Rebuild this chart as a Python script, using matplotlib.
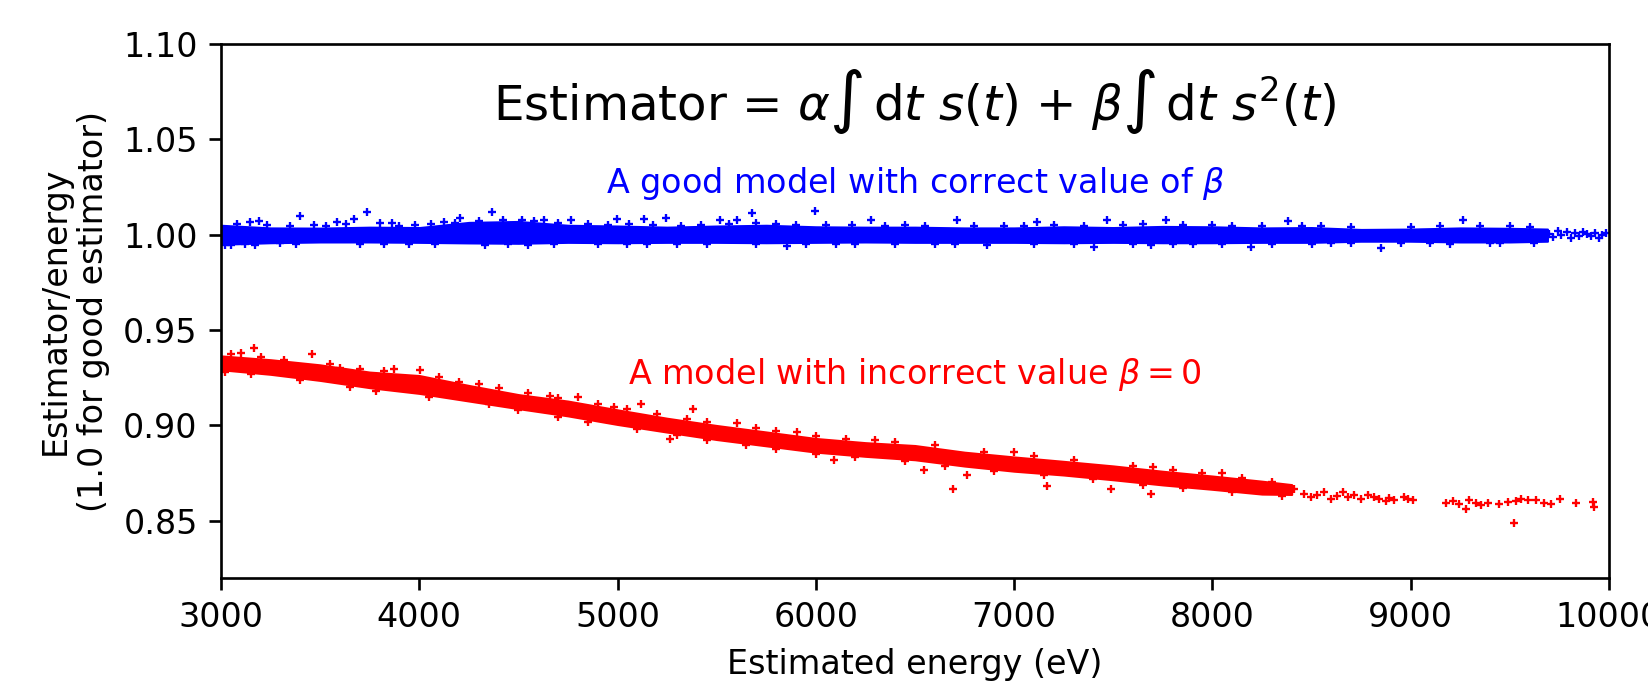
import matplotlib
matplotlib.use("Agg")
import matplotlib.pyplot as plt

# dense part of each band (energy in eV, ratio)
band_e = [3000, 3250, 3500, 3750, 4000, 4250, 4500, 4750, 5000, 5250, 5500, 5750, 6000,
          6250, 6500, 6750, 7000, 7250, 7500, 7750, 8000, 8250, 8500, 8750, 9000, 9250,
          9500, 9690]
blue_hi = [1.0050, 1.0036, 1.0035, 1.0040, 1.0038, 1.0065, 1.0070, 1.0050, 1.0046, 1.0040,
           1.0046, 1.0050, 1.0042, 1.0040, 1.0040, 1.0036, 1.0036, 1.0042, 1.0038, 1.0044,
           1.0042, 1.0036, 1.0038, 1.0028, 1.0030, 1.0036, 1.0034, 1.0030]
blue_lo = [0.9950, 0.9958, 0.9962, 0.9962, 0.9960, 0.9957, 0.9955, 0.9960, 0.9958, 0.9960,
           0.9960, 0.9958, 0.9960, 0.9962, 0.9960, 0.9960, 0.9960, 0.9958, 0.9960, 0.9958,
           0.9958, 0.9960, 0.9960, 0.9966, 0.9966, 0.9962, 0.9962, 0.9966]

red_e = [3000, 3250, 3500, 3750, 4000, 4250, 4500, 4750, 5000, 5250, 5500, 5750, 6000,
         6250, 6500, 6750, 7000, 7250, 7500, 7750, 8000, 8250, 8400]
red_hi = [0.9365, 0.9345, 0.9318, 0.9280, 0.9262, 0.9210, 0.9162, 0.9128, 0.9082, 0.9038,
          0.9000, 0.8966, 0.8932, 0.8910, 0.8895, 0.8860, 0.8835, 0.8812, 0.8788, 0.8760,
          0.8735, 0.8708, 0.8690]
red_lo = [0.9292, 0.9268, 0.9236, 0.9198, 0.9168, 0.9128, 0.9088, 0.9050, 0.9005, 0.8965,
          0.8926, 0.8893, 0.8860, 0.8838, 0.8820, 0.8787, 0.8760, 0.8740, 0.8715, 0.8688,
          0.8665, 0.8640, 0.8638]

# scattered points outside the dense band (fuzz, outliers, sparse tails)
blue_pts_e = [3148, 3190, 3400, 3585, 3669, 3737, 3804, 3863, 4123, 4207, 4367, 4628, 4763,
              4998, 5133, 5242, 5519, 5603, 5676, 5994, 6276, 6714, 7117, 7470, 7765, 8379,
              9262, 3050, 3120, 3300, 3950, 4450, 4900, 5856, 6865, 7403, 7689, 8194, 8850,
              5300, 6100, 6600, 7900, 8600, 9100, 9400,
              9700, 9720, 9745, 9760, 9790, 9810, 9830, 9850, 9870, 9890, 9910, 9930, 9950,
              9965, 9985,
              3080, 3230, 3350, 3470, 3530, 3630, 3900, 3980, 4060, 4180, 4300, 4420, 4520,
              4580, 4700, 4850, 4950, 5060, 5180, 5320, 5420, 5560, 5700, 5800, 5900, 6050,
              6180, 6350, 6450, 6550, 6800, 6950, 7050, 7200, 7350, 7550, 7650, 7850, 8000,
              8100, 8250, 8450, 8550, 8700, 9000, 9150, 9350, 9500, 9600,
              3020, 3170, 3380, 3700, 3820, 4080, 4330, 4550, 4680, 5050, 5150, 5450, 5700,
              5950, 6200, 6400, 6700, 7100, 7300, 7600, 7800, 8050, 8300, 8500, 8700, 8950,
              9200, 9450, 9620]
blue_pts_y = [1.0069, 1.0072, 1.0097, 1.0069, 1.0083, 1.0118, 1.0062, 1.0062, 1.0066, 1.0087,
              1.0118, 1.0080, 1.0080, 1.0085, 1.0085, 1.0087, 1.0075, 1.0080, 1.0113, 1.0127,
              1.0075, 1.0075, 1.0069, 1.0075, 1.0075, 1.0072, 1.0075, 0.9948, 0.9950, 0.9955,
              0.9952, 0.9950, 0.9952, 0.9940, 0.9948, 0.9934, 0.9948, 0.9934, 0.9930,
              0.9952, 0.9950, 0.9953, 0.9952, 0.9955, 0.9958, 0.9955,
              1.0005, 0.9990, 1.0020, 1.0000, 1.0012, 0.9985, 1.0008, 0.9995, 1.0015, 1.0002,
              0.9992, 1.0010, 0.9985, 1.0000, 1.0008,
              1.0058, 1.0050, 1.0047, 1.0052, 1.0046, 1.0055, 1.0048, 1.0050, 1.0054, 1.0060,
              1.0072, 1.0078, 1.0076, 1.0072, 1.0060, 1.0055, 1.0052, 1.0056, 1.0050, 1.0048,
              1.0052, 1.0058, 1.0060, 1.0055, 1.0052, 1.0050, 1.0052, 1.0048, 1.0050, 1.0046,
              1.0047, 1.0045, 1.0048, 1.0052, 1.0048, 1.0050, 1.0054, 1.0052, 1.0050, 1.0048,
              1.0045, 1.0048, 1.0044, 1.0040, 1.0040, 1.0045, 1.0046, 1.0044, 1.0040,
              0.9944, 0.9948, 0.9952, 0.9950, 0.9953, 0.9951, 0.9948, 0.9947, 0.9950, 0.9950,
              0.9952, 0.9950, 0.9952, 0.9950, 0.9953, 0.9952, 0.9951, 0.9952, 0.9950, 0.9951,
              0.9950, 0.9952, 0.9953, 0.9952, 0.9955, 0.9957, 0.9953, 0.9955, 0.9958]

red_pts_e = [3165, 3459, 3871, 4006, 4661, 4981, 5116, 5267, 5381, 5906, 6091, 6545, 6693,
             6764, 7168, 7487, 7689, 8051, 3100, 3600, 4200, 4800, 5600, 6300, 7000, 7700,
             8413, 8463, 8497, 8530, 8564, 8598, 8631, 8657, 8682, 8716, 8749, 8783, 8816,
             8842, 8875, 8892, 8917, 8968, 8985, 9010,
             9178, 9212, 9245, 9279, 9296, 9329, 9355, 9388, 9447, 9489, 9523, 9531, 9556,
             9590, 9632, 9674, 9708, 9755, 9834, 9918, 9927,
             3050, 3200, 3320, 3550, 3700, 3820, 4100, 4300, 4400, 4550, 4700, 4900, 5050,
             5200, 5350, 5450, 5700, 5800, 6000, 6150, 6400, 6600, 6850, 7100, 7300, 7600,
             7800, 7950, 8150, 8300,
             3020, 3150, 3400, 3650, 3780, 4050, 4350, 4500, 4700, 4850, 5100, 5300, 5450,
             5650, 5800, 6000, 6200, 6450, 6650, 6900, 7150, 7400, 7650, 7850, 8100, 8350]
red_pts_y = [0.9404, 0.9374, 0.9295, 0.9292, 0.9156, 0.9095, 0.9112, 0.8930, 0.9086, 0.8965,
             0.8821, 0.8764, 0.8668, 0.8741, 0.8685, 0.8668, 0.8642, 0.8750, 0.9380, 0.9300,
             0.9230, 0.9150, 0.9012, 0.8925, 0.8860, 0.8780,
             0.8668, 0.8642, 0.8625, 0.8633, 0.8650, 0.8616, 0.8630, 0.8653, 0.8625, 0.8637,
             0.8616, 0.8633, 0.8625, 0.8612, 0.8602, 0.8619, 0.8607, 0.8625, 0.8612, 0.8607,
             0.8595, 0.8602, 0.8590, 0.8563, 0.8607, 0.8595, 0.8585, 0.8595, 0.8590, 0.8598,
             0.8490, 0.8602, 0.8616, 0.8607, 0.8607, 0.8595, 0.8590, 0.8616, 0.8593, 0.8598,
             0.8572,
             0.9375, 0.9360, 0.9345, 0.9320, 0.9295, 0.9285, 0.9255, 0.9215, 0.9195, 0.9170,
             0.9145, 0.9112, 0.9085, 0.9060, 0.9035, 0.9020, 0.8985, 0.8972, 0.8945, 0.8930,
             0.8912, 0.8895, 0.8860, 0.8838, 0.8820, 0.8790, 0.8768, 0.8750, 0.8725, 0.8705,
             0.9280, 0.9268, 0.9240, 0.9200, 0.9180, 0.9150, 0.9110, 0.9080, 0.9045, 0.9020,
             0.8980, 0.8950, 0.8925, 0.8895, 0.8875, 0.8852, 0.8832, 0.8815, 0.8790, 0.8760,
             0.8740, 0.8720, 0.8690, 0.8670, 0.8650, 0.8630]

blue = "#0000ff"
red = "#ff0000"

fig = plt.figure(figsize=(1648 / 240, 683 / 240), dpi=240)
ax = fig.add_axes([0.1341, 0.1537, 0.8422, 0.7818])

ax.fill_between(band_e, blue_lo, blue_hi, color=blue, lw=0.6)
ax.plot(blue_pts_e, blue_pts_y, "+", color=blue, ms=2.2, mew=0.7)
ax.fill_between(red_e, red_lo, red_hi, color=red, lw=0.6)
ax.plot(red_pts_e, red_pts_y, "+", color=red, ms=2.2, mew=0.7)

ax.text(6500, 1.0697, r"Estimator = $\alpha\int\,{\rm d}t\ s(t)$ + $\beta\int\,{\rm d}t\ s^2(t)$",
        ha="center", va="center", fontsize=14.5)
ax.text(6500, 1.0268, r"A good model with correct value of $\beta$", color=blue,
        ha="center", va="center")
ax.text(6500, 0.9268, r"A model with incorrect value $\beta=0$", color=red,
        ha="center", va="center")

ax.set_xlim(3000, 10000)
ax.set_ylim(0.82, 1.10)
ax.set_yticks([0.85, 0.90, 0.95, 1.00, 1.05, 1.10])
ax.set_xlabel("Estimated energy (eV)")
ax.set_ylabel("Estimator/energy\n(1.0 for good estimator)")

fig.savefig("out.png", dpi=240)
